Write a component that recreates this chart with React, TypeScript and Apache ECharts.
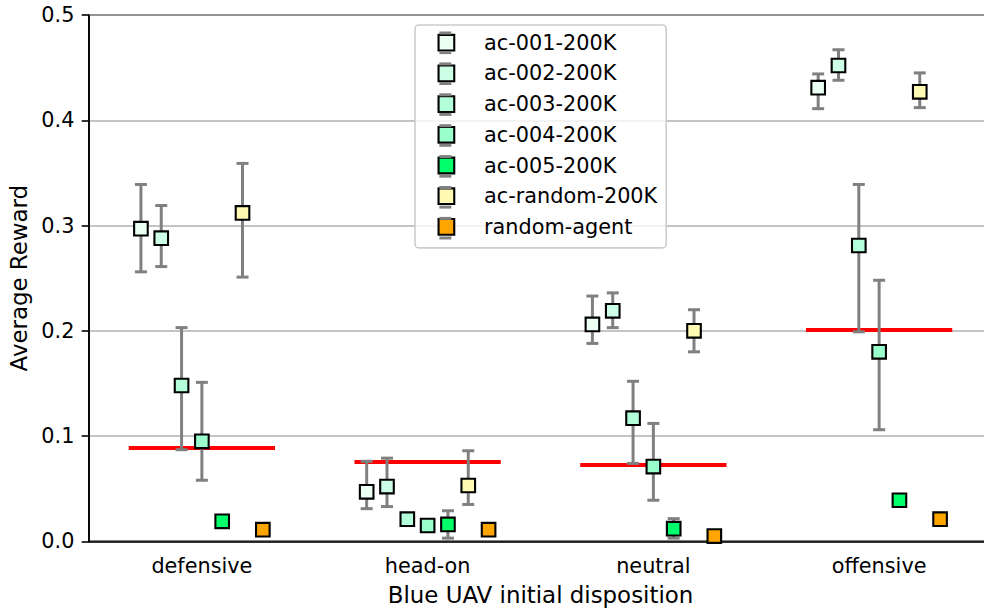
import React, { useEffect, useRef } from "react";
import * as echarts from "echarts";

// Initial dispositions along the x axis
const CATEGORIES = ["defensive", "head-on", "neutral", "offensive"];

const SERIES_NAMES = [
  "ac-001-200K",
  "ac-002-200K",
  "ac-003-200K",
  "ac-004-200K",
  "ac-005-200K",
  "ac-random-200K",
  "random-agent",
];

const SERIES_COLORS = [
  "#ebfff2",
  "#ccffe5",
  "#b3ffd9",
  "#99ffcc",
  "#00ff6a",
  "#fffab3",
  "#ffa500",
];

// Mean reward per disposition, with lower / upper ends of the error bars
const AC001_MEAN = [0.297, 0.047, 0.206, 0.431];
const AC001_LOW = [0.256, 0.031, 0.188, 0.411];
const AC001_HIGH = [0.339, 0.076, 0.233, 0.444];

const AC002_MEAN = [0.288, 0.052, 0.219, 0.452];
const AC002_LOW = [0.261, 0.033, 0.203, 0.438];
const AC002_HIGH = [0.319, 0.079, 0.236, 0.467];

const AC003_MEAN = [0.148, 0.021, 0.117, 0.281];
const AC003_LOW = [0.087, 0.021, 0.074, 0.199];
const AC003_HIGH = [0.203, 0.021, 0.152, 0.339];

const AC004_MEAN = [0.095, 0.015, 0.071, 0.18];
const AC004_LOW = [0.058, 0.015, 0.039, 0.106];
const AC004_HIGH = [0.151, 0.015, 0.112, 0.248];

const AC005_MEAN = [0.019, 0.016, 0.012, 0.039];
const AC005_LOW = [0.019, 0.003, 0.003, 0.039];
const AC005_HIGH = [0.019, 0.029, 0.0215, 0.039];

const ACRANDOM_MEAN = [0.312, 0.053, 0.2, 0.427];
const ACRANDOM_LOW = [0.251, 0.035, 0.18, 0.412];
const ACRANDOM_HIGH = [0.359, 0.086, 0.22, 0.445];

const RANDOM_AGENT_MEAN = [0.011, 0.011, 0.005, 0.021];

// Reference level drawn as a red bar across each group
const REFERENCE_LEVEL = [0.0886, 0.0753, 0.0725, 0.2008];

const SERIES_MEANS = [AC001_MEAN, AC002_MEAN, AC003_MEAN, AC004_MEAN, AC005_MEAN, ACRANDOM_MEAN, RANDOM_AGENT_MEAN];
const SERIES_LOWS = [AC001_LOW, AC002_LOW, AC003_LOW, AC004_LOW, AC005_LOW, ACRANDOM_LOW, RANDOM_AGENT_MEAN];
const SERIES_HIGHS = [AC001_HIGH, AC002_HIGH, AC003_HIGH, AC004_HIGH, AC005_HIGH, ACRANDOM_HIGH, RANDOM_AGENT_MEAN];

const Y_TICKS = [0, 0.1, 0.2, 0.3, 0.4, 0.5];

const FONT = "DejaVu Sans";
const TICK_FONT = 20.8;
const LABEL_FONT = 22.9;

const OFFSET_STEP = 0.09; // fraction of a category band between neighbouring series
const REF_HALF = 0.324; // half length of the reference bar, in bands
const MARKER = 13.6;
const ERR_COLOR = "#808080";
const ERR_WIDTH = 3;
const CAP_HALF = 6;

// Legend layout
const LEG_LEFT = 415;
const LEG_TOP = 25;
const LEG_PAD = [7.2, 9, 10.5, 22.5];
const LEG_ICON = 15.7;
const LEG_TEXT_H = 21.2;
const LEG_ROW = 30.9;
const LEG_TEXT_X = 483;

export default function App() {
  const ref = useRef<HTMLDivElement>(null);

  useEffect(() => {
    if (!ref.current) return;
    const chart = echarts.init(ref.current, undefined, { renderer: "svg" });

    const errorSeries = SERIES_NAMES.map((name, si) => ({
      name,
      type: "custom",
      z: 3 + si,
      data: CATEGORIES.map((_, ci) => [ci, SERIES_MEANS[si][ci], SERIES_LOWS[si][ci], SERIES_HIGHS[si][ci]]),
      encode: { x: 0, y: 1 },
      itemStyle: { color: SERIES_COLORS[si], borderColor: "#000", borderWidth: 2.1 },
      renderItem: (params: any, api: any) => {
        const cat = api.value(0);
        const band = api.size([1, 0])[0];
        const pMean = api.coord([cat, api.value(1)]);
        const yLo = api.coord([cat, api.value(2)])[1];
        const yHi = api.coord([cat, api.value(3)])[1];
        const cx = pMean[0] + (si - 3) * OFFSET_STEP * band;
        const cy = pMean[1];
        const errStyle = { stroke: ERR_COLOR, lineWidth: ERR_WIDTH };
        const children: any[] = [];
        if (Math.abs(yLo - yHi) > 0.5) {
          children.push(
            { type: "line", shape: { x1: cx, y1: yLo, x2: cx, y2: yHi }, style: errStyle },
            { type: "line", shape: { x1: cx - CAP_HALF, y1: yLo, x2: cx + CAP_HALF, y2: yLo }, style: errStyle },
            { type: "line", shape: { x1: cx - CAP_HALF, y1: yHi, x2: cx + CAP_HALF, y2: yHi }, style: errStyle }
          );
        }
        children.push({
          type: "rect",
          shape: { x: cx - MARKER / 2, y: cy - MARKER / 2, width: MARKER, height: MARKER },
          style: { fill: SERIES_COLORS[si], stroke: "#000", lineWidth: 2.1 },
        });
        return { type: "group", children };
      },
    }));

    const referenceSeries = {
      name: "reference",
      type: "custom",
      z: 2,
      data: CATEGORIES.map((_, ci) => [ci, REFERENCE_LEVEL[ci]]),
      encode: { x: 0, y: 1 },
      renderItem: (params: any, api: any) => {
        const cat = api.value(0);
        const band = api.size([1, 0])[0];
        const p = api.coord([cat, api.value(1)]);
        return {
          type: "line",
          shape: { x1: p[0] - REF_HALF * band, y1: p[1], x2: p[0] + REF_HALF * band, y2: p[1] },
          style: { stroke: "#ff0000", lineWidth: 4 },
        };
      },
    };

    // Error-bar caps on the legend handles
    const capGraphics: any[] = [];
    const iconCx = LEG_LEFT + LEG_PAD[3] + LEG_ICON / 2;
    const firstCy = LEG_TOP + LEG_PAD[0] + LEG_TEXT_H / 2;
    SERIES_NAMES.forEach((_, i) => {
      const cy = firstCy + i * LEG_ROW;
      [-1, 1].forEach((dir) => {
        const y = cy + dir * 9.8;
        capGraphics.push({
          type: "line",
          z: 100,
          shape: { x1: iconCx - CAP_HALF, y1: y, x2: iconCx + CAP_HALF, y2: y },
          style: { stroke: ERR_COLOR, lineWidth: ERR_WIDTH },
        });
      });
    });

    chart.setOption({
      animation: false,
      backgroundColor: "#ffffff",
      textStyle: { fontFamily: FONT },
      grid: {
        left: 89,
        top: 15,
        width: 903,
        height: 526.3,
        show: true,
        borderColor: "#000",
        borderWidth: 1.6,
        backgroundColor: "transparent",
        containLabel: false,
        outerBoundsMode: "none",
      },
      legend: {
        orient: "vertical",
        left: LEG_LEFT,
        top: LEG_TOP,
        padding: LEG_PAD,
        itemWidth: LEG_ICON,
        itemHeight: LEG_ICON,
        itemGap: LEG_ROW - LEG_TEXT_H,
        icon: "rect",
        backgroundColor: "rgba(255,255,255,0.8)",
        borderColor: "#cccccc",
        borderWidth: 1.6,
        borderRadius: 4,
        z: 50,
        textStyle: {
          fontFamily: FONT,
          fontSize: TICK_FONT,
          color: "#000",
          padding: [0, 0, 0, LEG_TEXT_X - (LEG_LEFT + LEG_PAD[3] + LEG_ICON + 5)],
        },
        data: SERIES_NAMES.map((name, i) => ({
          name,
          itemStyle: { color: SERIES_COLORS[i], borderColor: "#000", borderWidth: 2.1 },
        })),
      },
      xAxis: {
        type: "category",
        data: CATEGORIES,
        boundaryGap: true,
        name: "Blue UAV initial disposition",
        nameLocation: "middle",
        nameGap: 42,
        nameTextStyle: { fontFamily: FONT, fontSize: LABEL_FONT, color: "#000" },
        axisLine: { lineStyle: { color: "#000", width: 1.6 } },
        axisTick: { alignWithLabel: true, length: 7.3, lineStyle: { color: "#000", width: 1.6 } },
        axisLabel: { fontFamily: FONT, fontSize: TICK_FONT, color: "#000", margin: 14.6 },
        splitLine: { show: false },
      },
      yAxis: {
        type: "value",
        min: Y_TICKS[0],
        max: Y_TICKS[Y_TICKS.length - 1],
        interval: 0.1,
        name: "Average Reward",
        nameLocation: "middle",
        nameGap: 53,
        nameTextStyle: { fontFamily: FONT, fontSize: LABEL_FONT, color: "#000" },
        axisLine: { show: true, lineStyle: { color: "#000", width: 1.6 } },
        axisTick: { show: true, length: 7.3, lineStyle: { color: "#000", width: 1.6 } },
        axisLabel: {
          fontFamily: FONT,
          fontSize: TICK_FONT,
          color: "#000",
          margin: 14.6,
          formatter: (v: number) => v.toFixed(1),
        },
        splitLine: { show: true, lineStyle: { color: "#b0b0b0", width: 1.6 } },
      },
      graphic: capGraphics,
      series: [referenceSeries, ...errorSeries],
    });

    return () => chart.dispose();
  }, []);

  return (
    <div
      ref={ref}
      style={{ position: "fixed", left: 0, top: 0, width: 984, height: 609, background: "#fff" }}
    />
  );
}
